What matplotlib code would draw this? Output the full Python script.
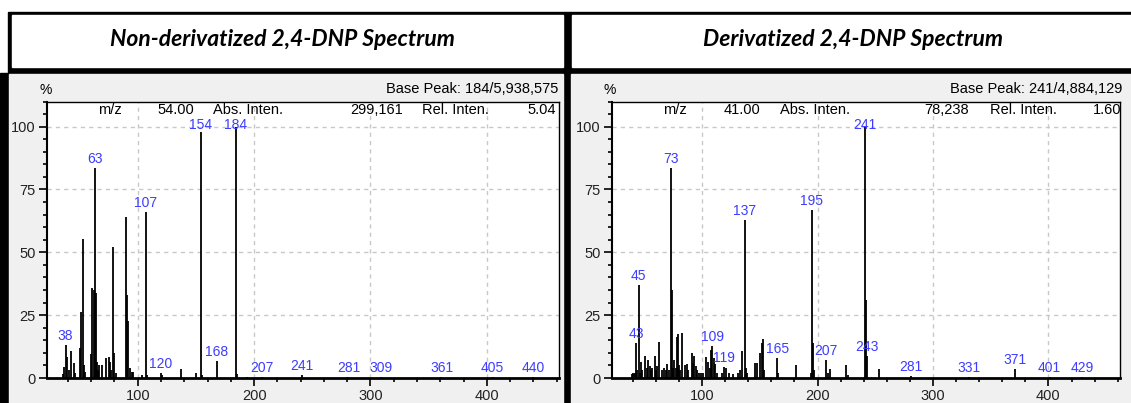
import numpy as np
import matplotlib.pyplot as plt
from matplotlib.patches import Rectangle
from matplotlib.ticker import MultipleLocator

W, H = 1131, 403

# non-derivatized 2,4-DNP (m/z, relative intensity %)
mz_nd = [36, 37, 38, 39, 41, 43, 45, 46, 50, 51, 53, 54, 55, 60, 61, 62, 63, 64,
         65, 66, 67, 69, 73, 75, 76, 77, 79, 80, 81, 90, 91, 92, 93, 95, 96, 104,
         107, 108, 120, 121, 137, 150, 154, 155, 168, 184, 185, 194, 207, 241,
         281, 309, 361, 405, 440]
int_nd = [1.5, 4.5, 13.1, 8.5, 3.2, 10.9, 5.8, 2.0, 11.8, 26.4, 55.1, 5.0, 2.5, 9.5, 36.0, 35.0, 83.4, 33.7,
          6.5, 3.0, 5.2, 5.2, 7.8, 8.5, 6.5, 3.0, 52.2, 10.1, 2.0, 64.1, 33.0, 22.8, 4.0, 2.5, 2.5, 1.1,
          66.1, 1.2, 2.1, 1.0, 3.4, 1.8, 98.0, 1.0, 6.9, 100.0, 1.5, 0.5, 0.4, 1.2,
          0.3, 0.3, 0.3, 0.3, 0.3]
labels_nd = [38, 63, 107, 120, 154, 168, 184, 207, 241, 281, 309, 361, 405, 440]

# derivatized 2,4-DNP
mz_d = [39, 40, 41, 42, 43, 44, 45, 46, 47, 48, 51, 52, 53, 55, 56, 57, 59, 60, 61, 63,
        65, 67, 69, 70, 71, 73, 74, 75, 76, 77, 78, 79, 80, 81, 83, 85, 87, 88, 91, 92,
        93, 95, 96, 97, 99, 101, 103, 105, 107, 108, 109, 110, 111, 113, 117, 119, 121,
        123, 127, 131, 133, 135, 137, 138, 139, 146, 148, 150, 152, 153, 154, 165, 166,
        181, 194, 195, 196, 197, 207, 209, 211, 225, 226, 241, 242, 243, 253, 281, 331,
        371, 401, 429]
int_d = [1.5, 2.0, 1.6, 2.0, 14.0, 3.0, 37.0, 2.0, 6.5, 3.0, 8.7, 4.0, 7.2, 4.8, 3.0, 4.0, 8.7, 3.0, 4.8, 14.4,
         3.0, 4.1, 3.0, 5.5, 3.0, 83.4, 35.0, 4.0, 7.2, 4.0, 16.4, 17.5, 5.0, 3.0, 18.0, 5.0, 5.5, 3.0, 10.1, 6.0,
         8.7, 4.8, 3.0, 2.0, 2.0, 2.0, 8.5, 6.5, 4.0, 11.0, 12.7, 8.0, 5.5, 2.0, 2.0, 4.5, 4.0,
         2.0, 1.5, 2.0, 3.0, 10.9, 62.8, 4.0, 2.0, 5.8, 5.8, 9.8, 13.8, 15.4, 3.0, 7.8, 2.0,
         5.2, 2.0, 67.0, 13.8, 3.0, 7.2, 2.0, 3.4, 5.2, 1.0, 100.0, 31.0, 8.7, 3.4, 0.6, 0.3,
         3.4, 0.3, 0.3]
labels_d = [43, 45, 73, 109, 119, 137, 165, 195, 207, 241, 243, 281, 331, 371, 401, 429]

titles = ["Non-derivatized 2,4-DNP Spectrum", "Derivatized 2,4-DNP Spectrum"]
base_peaks = ["Base Peak: 184/5,938,575", "Base Peak: 241/4,884,129"]
readouts = [("54.00", "299,161", "5.04"), ("41.00", "78,238", "1.60")]

plt.rcParams['font.family'] = ['Liberation Sans', 'DejaVu Sans']

fig = plt.figure(figsize=(W / 100, H / 100), dpi=100)

# background drawn in pixel coordinates
bg = fig.add_axes([0, 0, 1, 1], zorder=-1)
bg.set_xlim(0, W)
bg.set_ylim(H, 0)
bg.axis('off')
bg.add_patch(Rectangle((8, 12), W - 8, 62, color='black'))
bg.add_patch(Rectangle((0, 73), W, H - 73, color='black'))
bg.add_patch(Rectangle((12, 15), 551, 52, color='white'))
bg.add_patch(Rectangle((572, 15), W - 572, 52, color='white'))
bg.add_patch(Rectangle((9, 74), 554, H - 74, color='#f0f0f0'))
bg.add_patch(Rectangle((571, 74), W - 571, H - 74, color='#f0f0f0'))


def px(x, y):
    return x / W, 1 - y / H


panels = [
    dict(x0=47, x1=559, mz=mz_nd, inten=int_nd, labels=labels_nd,
         pct=45.5, bp=558, cols=(110, 194.5, 212.7, 403, 422, 556), tx=282),
    dict(x0=612, x1=1120, mz=mz_d, inten=int_d, labels=labels_d,
         pct=610, bp=1122, cols=(675, 760, 780, 968.6, 990, 1121), tx=853),
]

top, bottom = 101.5, 378
blue = '#3c3cff'
for i, p in enumerate(panels):
    ax = fig.add_axes([p['x0'] / W, 1 - bottom / H, (p['x1'] - p['x0']) / W, (bottom - top) / H])
    ax.set_facecolor('white')
    ax.vlines(p['mz'], 0, p['inten'], color='black', lw=1.3)
    lookup = dict(zip(p['mz'], p['inten']))
    for m in p['labels']:
        yv = min(lookup[m], 97) + 0.8
        ax.text(m, yv, str(m), color=blue, fontsize=10, ha='center', va='bottom')
    ax.set_xlim(22, 462)
    ax.set_ylim(0, 110)
    ax.xaxis.set_major_locator(MultipleLocator(100))
    ax.xaxis.set_minor_locator(MultipleLocator(20))
    ax.yaxis.set_major_locator(MultipleLocator(25))
    ax.yaxis.set_minor_locator(MultipleLocator(5))
    ax.grid(True, which='major', color='#c8c8c8', ls=(0, (3, 3)), lw=1)
    ax.set_axisbelow(True)
    ax.tick_params(which='major', length=6, width=1.2, labelsize=10.5, labelcolor='#222222', pad=2)
    ax.tick_params(which='minor', length=3, width=1.2)
    for s in ax.spines.values():
        s.set_color('black')
        s.set_linewidth(1)
    ax.spines['bottom'].set_linewidth(2)
    ax.spines['left'].set_linewidth(1.5)

    fig.text(*px(p['tx'], 40), titles[i], fontsize=16.5, fontweight='bold', fontstyle='italic',
             family=['Lato', 'DejaVu Sans'], ha='center', va='center')
    fig.text(*px(p['pct'], 90), "%", fontsize=10, ha='center', va='center')
    fig.text(*px(p['bp'], 89), base_peaks[i], fontsize=10.5, ha='right', va='center')
    c = p['cols']
    mzv, absv, relv = readouts[i]
    fig.text(*px(c[0], 110), "m/z", fontsize=10.5, ha='center', va='center')
    fig.text(*px(c[1], 110), mzv, fontsize=10.5, ha='right', va='center')
    fig.text(*px(c[2], 110), "Abs. Inten.", fontsize=10.5, ha='left', va='center')
    fig.text(*px(c[3], 110), absv, fontsize=10.5, ha='right', va='center')
    fig.text(*px(c[4], 110), "Rel. Inten.", fontsize=10.5, ha='left', va='center')
    fig.text(*px(c[5], 110), relv, fontsize=10.5, ha='right', va='center')

fig.savefig("out.png", dpi=100)
